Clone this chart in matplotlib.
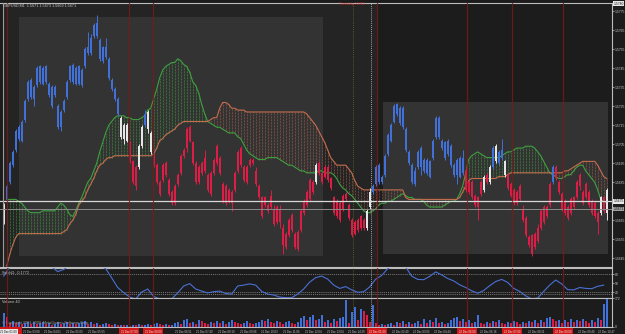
import numpy as np
import matplotlib
matplotlib.use("Agg")
import matplotlib.pyplot as plt
from matplotlib.patches import Rectangle

# ----------------------------------------
# Data (GBPUSD M1)
# ----------------------------------------

opens = [
    1.5664, 1.5676, 1.5685, 1.5694, 1.5702, 1.5708, 1.5707, 1.5718, 1.5729, 1.5739,
    1.5729, 1.5736, 1.5746, 1.5737, 1.5746, 1.5737, 1.5725, 1.5735, 1.5725, 1.5714,
    1.5723, 1.5730, 1.5739, 1.5747, 1.5737, 1.5746, 1.5736, 1.5746, 1.5753, 1.5753,
    1.5762, 1.5769, 1.5760, 1.5749, 1.5756, 1.5750, 1.5739, 1.5734, 1.5729, 1.5719,
    1.5708, 1.5715, 1.5706, 1.5696, 1.5683, 1.5693, 1.5704, 1.5715, 1.5722, 1.5711,
    1.5699, 1.5694, 1.5679, 1.5686, 1.5695, 1.5686, 1.5674, 1.5674, 1.5684, 1.5690,
    1.5699, 1.5703, 1.5714, 1.5706, 1.5685, 1.5685, 1.5690, 1.5698, 1.5681, 1.5679,
    1.5690, 1.5704, 1.5698, 1.5684, 1.5674, 1.5681, 1.5674, 1.5681, 1.5691, 1.5703,
    1.5686, 1.5685, 1.5694, 1.5697, 1.5691, 1.5683, 1.5667, 1.5677, 1.5670, 1.5678,
    1.5663, 1.5672, 1.5671, 1.5661, 1.5651, 1.5657, 1.5668, 1.5651, 1.5650, 1.5660,
    1.5669, 1.5673, 1.5676, 1.5680, 1.5685, 1.5695, 1.5685, 1.5693, 1.5693, 1.5687,
    1.5677, 1.5667, 1.5665, 1.5671, 1.5679, 1.5673, 1.5665, 1.5658, 1.5660, 1.5667,
    1.5661, 1.5661, 1.5672, 1.5680, 1.5684, 1.5694, 1.5685, 1.5689, 1.5700, 1.5707,
    1.5717, 1.5726, 1.5724, 1.5724, 1.5713, 1.5701, 1.5685, 1.5684, 1.5693, 1.5703,
    1.5697, 1.5697, 1.5688, 1.5698, 1.5709, 1.5719, 1.5707, 1.5698, 1.5707, 1.5704,
    1.5689, 1.5689, 1.5688, 1.5698, 1.5691, 1.5685, 1.5685, 1.5678, 1.5672, 1.5679,
    1.5681, 1.5689, 1.5685, 1.5693, 1.5704, 1.5695, 1.5698, 1.5696, 1.5689, 1.5684,
    1.5681, 1.5674, 1.5683, 1.5671, 1.5666, 1.5656, 1.5647, 1.5651, 1.5654, 1.5661,
    1.5664, 1.5667, 1.5673, 1.5685, 1.5693, 1.5685, 1.5679, 1.5675, 1.5666, 1.5669,
    1.5672, 1.5677, 1.5689, 1.5674, 1.5684, 1.5680, 1.5675, 1.5674, 1.5664, 1.5669,
    1.5677, 1.5669,
]

highs = [
    1.5674, 1.5684, 1.5696, 1.5702, 1.5713, 1.5715, 1.5718, 1.5729, 1.5739, 1.5740,
    1.5736, 1.5746, 1.5747, 1.5746, 1.5747, 1.5738, 1.5736, 1.5736, 1.5726, 1.5723,
    1.5729, 1.5739, 1.5747, 1.5748, 1.5746, 1.5747, 1.5745, 1.5756, 1.5764, 1.5763,
    1.5769, 1.5773, 1.5761, 1.5757, 1.5761, 1.5751, 1.5740, 1.5735, 1.5730, 1.5720,
    1.5716, 1.5716, 1.5707, 1.5697, 1.5694, 1.5705, 1.5715, 1.5723, 1.5723, 1.5712,
    1.5700, 1.5695, 1.5686, 1.5695, 1.5696, 1.5687, 1.5681, 1.5684, 1.5690, 1.5700,
    1.5703, 1.5714, 1.5715, 1.5707, 1.5696, 1.5694, 1.5696, 1.5702, 1.5690, 1.5691,
    1.5698, 1.5705, 1.5699, 1.5685, 1.5684, 1.5682, 1.5681, 1.5691, 1.5702, 1.5704,
    1.5694, 1.5694, 1.5698, 1.5698, 1.5693, 1.5684, 1.5678, 1.5678, 1.5674, 1.5681,
    1.5673, 1.5673, 1.5673, 1.5663, 1.5659, 1.5666, 1.5669, 1.5659, 1.5660, 1.5671,
    1.5676, 1.5681, 1.5687, 1.5686, 1.5695, 1.5696, 1.5691, 1.5694, 1.5694, 1.5688,
    1.5678, 1.5676, 1.5675, 1.5679, 1.5680, 1.5674, 1.5666, 1.5665, 1.5666, 1.5668,
    1.5666, 1.5671, 1.5682, 1.5684, 1.5694, 1.5695, 1.5689, 1.5700, 1.5711, 1.5716,
    1.5726, 1.5727, 1.5725, 1.5725, 1.5714, 1.5702, 1.5695, 1.5693, 1.5702, 1.5704,
    1.5698, 1.5698, 1.5697, 1.5708, 1.5720, 1.5720, 1.5708, 1.5707, 1.5708, 1.5705,
    1.5695, 1.5698, 1.5699, 1.5702, 1.5693, 1.5686, 1.5686, 1.5679, 1.5678, 1.5686,
    1.5689, 1.5690, 1.5694, 1.5704, 1.5705, 1.5702, 1.5708, 1.5697, 1.5690, 1.5685,
    1.5682, 1.5681, 1.5684, 1.5673, 1.5667, 1.5657, 1.5658, 1.5659, 1.5663, 1.5671,
    1.5673, 1.5673, 1.5685, 1.5694, 1.5694, 1.5686, 1.5680, 1.5676, 1.5673, 1.5677,
    1.5678, 1.5686, 1.5690, 1.5681, 1.5685, 1.5681, 1.5676, 1.5675, 1.5670, 1.5678,
    1.5678, 1.5682,
]

lows = [
    1.5663, 1.5675, 1.5684, 1.5693, 1.5701, 1.5707, 1.5706, 1.5717, 1.5728, 1.5729,
    1.5725, 1.5735, 1.5737, 1.5736, 1.5737, 1.5730, 1.5724, 1.5730, 1.5713, 1.5712,
    1.5722, 1.5729, 1.5738, 1.5737, 1.5736, 1.5736, 1.5735, 1.5745, 1.5752, 1.5752,
    1.5761, 1.5761, 1.5749, 1.5748, 1.5750, 1.5739, 1.5733, 1.5728, 1.5720, 1.5708,
    1.5705, 1.5706, 1.5695, 1.5684, 1.5681, 1.5692, 1.5703, 1.5714, 1.5711, 1.5700,
    1.5693, 1.5684, 1.5678, 1.5685, 1.5688, 1.5678, 1.5673, 1.5673, 1.5683, 1.5689,
    1.5698, 1.5701, 1.5706, 1.5694, 1.5684, 1.5684, 1.5689, 1.5690, 1.5680, 1.5678,
    1.5689, 1.5694, 1.5689, 1.5674, 1.5673, 1.5674, 1.5670, 1.5680, 1.5690, 1.5693,
    1.5685, 1.5684, 1.5693, 1.5694, 1.5683, 1.5676, 1.5666, 1.5672, 1.5669, 1.5671,
    1.5662, 1.5663, 1.5661, 1.5647, 1.5650, 1.5656, 1.5659, 1.5650, 1.5649, 1.5659,
    1.5668, 1.5672, 1.5675, 1.5679, 1.5684, 1.5689, 1.5684, 1.5687, 1.5685, 1.5681,
    1.5668, 1.5666, 1.5664, 1.5670, 1.5675, 1.5665, 1.5656, 1.5657, 1.5659, 1.5660,
    1.5660, 1.5660, 1.5671, 1.5679, 1.5683, 1.5684, 1.5684, 1.5688, 1.5699, 1.5706,
    1.5716, 1.5720, 1.5715, 1.5713, 1.5701, 1.5694, 1.5684, 1.5683, 1.5692, 1.5689,
    1.5690, 1.5689, 1.5687, 1.5697, 1.5708, 1.5708, 1.5702, 1.5697, 1.5699, 1.5693,
    1.5688, 1.5684, 1.5687, 1.5689, 1.5680, 1.5679, 1.5676, 1.5672, 1.5665, 1.5678,
    1.5680, 1.5684, 1.5684, 1.5692, 1.5695, 1.5694, 1.5697, 1.5688, 1.5681, 1.5677,
    1.5673, 1.5673, 1.5675, 1.5664, 1.5656, 1.5651, 1.5646, 1.5650, 1.5653, 1.5660,
    1.5663, 1.5666, 1.5672, 1.5684, 1.5686, 1.5679, 1.5670, 1.5668, 1.5665, 1.5668,
    1.5671, 1.5676, 1.5681, 1.5673, 1.5676, 1.5672, 1.5668, 1.5666, 1.5658, 1.5668,
    1.5669, 1.5665,
]

closes = [
    1.5673, 1.5683, 1.5695, 1.5701, 1.5712, 1.5714, 1.5717, 1.5728, 1.5738, 1.5730,
    1.5735, 1.5745, 1.5738, 1.5745, 1.5738, 1.5731, 1.5735, 1.5731, 1.5714, 1.5722,
    1.5728, 1.5738, 1.5746, 1.5738, 1.5745, 1.5737, 1.5744, 1.5755, 1.5756, 1.5761,
    1.5768, 1.5762, 1.5750, 1.5756, 1.5751, 1.5740, 1.5734, 1.5729, 1.5721, 1.5709,
    1.5715, 1.5707, 1.5696, 1.5685, 1.5693, 1.5704, 1.5714, 1.5721, 1.5713, 1.5701,
    1.5694, 1.5685, 1.5685, 1.5694, 1.5689, 1.5679, 1.5680, 1.5683, 1.5689, 1.5699,
    1.5702, 1.5713, 1.5707, 1.5695, 1.5695, 1.5693, 1.5695, 1.5691, 1.5689, 1.5690,
    1.5697, 1.5695, 1.5690, 1.5675, 1.5683, 1.5675, 1.5680, 1.5690, 1.5701, 1.5694,
    1.5693, 1.5693, 1.5697, 1.5695, 1.5684, 1.5677, 1.5677, 1.5673, 1.5673, 1.5672,
    1.5671, 1.5664, 1.5664, 1.5652, 1.5658, 1.5665, 1.5660, 1.5658, 1.5659, 1.5670,
    1.5675, 1.5680, 1.5686, 1.5685, 1.5694, 1.5690, 1.5690, 1.5688, 1.5686, 1.5682,
    1.5669, 1.5675, 1.5674, 1.5678, 1.5676, 1.5666, 1.5657, 1.5664, 1.5665, 1.5661,
    1.5665, 1.5670, 1.5680, 1.5683, 1.5693, 1.5685, 1.5688, 1.5699, 1.5710, 1.5715,
    1.5725, 1.5721, 1.5716, 1.5714, 1.5702, 1.5695, 1.5694, 1.5691, 1.5701, 1.5693,
    1.5691, 1.5690, 1.5696, 1.5707, 1.5719, 1.5709, 1.5703, 1.5706, 1.5700, 1.5694,
    1.5694, 1.5697, 1.5698, 1.5690, 1.5681, 1.5680, 1.5677, 1.5673, 1.5677, 1.5685,
    1.5688, 1.5685, 1.5693, 1.5703, 1.5696, 1.5701, 1.5702, 1.5689, 1.5682, 1.5678,
    1.5674, 1.5680, 1.5676, 1.5665, 1.5657, 1.5652, 1.5657, 1.5658, 1.5661, 1.5670,
    1.5672, 1.5672, 1.5684, 1.5693, 1.5687, 1.5680, 1.5671, 1.5669, 1.5672, 1.5676,
    1.5677, 1.5685, 1.5683, 1.5680, 1.5677, 1.5673, 1.5669, 1.5667, 1.5669, 1.5677,
    1.5670, 1.5681,
]

# Ichimoku Senkou spans, as drawn (already shifted)
span_a = [
    None, 1.5676, 1.5676, 1.5676, 1.5676, 1.5675, 1.5674, 1.5672, 1.5670, 1.5669,
    1.5669, 1.5669, 1.5669, 1.5670, 1.5670, 1.5670, 1.5670, 1.5670, 1.5672, 1.5674,
    1.5673, 1.5671, 1.5668, 1.5667, 1.5670, 1.5674, 1.5677, 1.5681, 1.5685, 1.5687,
    1.5691, 1.5695, 1.5701, 1.5706, 1.5711, 1.5715, 1.5717, 1.5719, 1.5720, 1.5720,
    1.5720, 1.5719, 1.5719, 1.5718, 1.5718, 1.5718, 1.5719, 1.5720, 1.5723, 1.5724,
    1.5729, 1.5734, 1.5740, 1.5744, 1.5746, 1.5747, 1.5748, 1.5748, 1.5750, 1.5749,
    1.5747, 1.5746, 1.5743, 1.5738, 1.5736, 1.5732, 1.5726, 1.5721, 1.5717, 1.5716,
    1.5715, 1.5714, 1.5714, 1.5713, 1.5712, 1.5711, 1.5711, 1.5711, 1.5709, 1.5708,
    1.5705, 1.5702, 1.5700, 1.5699, 1.5698, 1.5697, 1.5697, 1.5697, 1.5698, 1.5698,
    1.5698, 1.5698, 1.5697, 1.5696, 1.5695, 1.5694, 1.5694, 1.5693, 1.5692, 1.5691,
    1.5691, 1.5690, 1.5690, 1.5690, 1.5690, 1.5691, 1.5691, 1.5690, 1.5690, 1.5690,
    1.5689, 1.5687, 1.5684, 1.5682, 1.5681, 1.5679, 1.5678, 1.5676, 1.5674, 1.5672,
    1.5670, 1.5669, 1.5669, 1.5670, 1.5671, 1.5673, 1.5674, 1.5674, 1.5675, 1.5675,
    1.5676, 1.5677, 1.5678, 1.5679, 1.5678, 1.5677, 1.5677, 1.5676, 1.5676, 1.5676,
    1.5675, 1.5673, 1.5672, 1.5672, 1.5672, 1.5672, 1.5672, 1.5673, 1.5674, 1.5675,
    1.5675, 1.5676, 1.5679, 1.5683, 1.5690, 1.5697, 1.5699, 1.5700, 1.5701, 1.5700,
    1.5699, 1.5698, 1.5698, 1.5698, 1.5698, 1.5698, 1.5699, 1.5700, 1.5701, 1.5701,
    1.5702, 1.5703, 1.5703, 1.5703, 1.5704, 1.5704, 1.5704, 1.5703, 1.5701, 1.5699,
    1.5696, 1.5693, 1.5690, 1.5689, 1.5688, 1.5687, 1.5687, 1.5688, 1.5689, 1.5689,
    1.5691, 1.5693, 1.5694, 1.5694, 1.5691, 1.5689, 1.5687, 1.5685, 1.5681, 1.5676,
    1.5675, 1.5674,
]

span_b = [
    None, 1.5641, 1.5647, 1.5652, 1.5656, 1.5658, 1.5658, 1.5658, 1.5658, 1.5658,
    1.5658, 1.5658, 1.5658, 1.5658, 1.5658, 1.5658, 1.5658, 1.5658, 1.5658, 1.5658,
    1.5659, 1.5660, 1.5663, 1.5665, 1.5668, 1.5673, 1.5675, 1.5677, 1.5681, 1.5684,
    1.5687, 1.5691, 1.5694, 1.5695, 1.5697, 1.5698, 1.5698, 1.5699, 1.5699, 1.5699,
    1.5699, 1.5699, 1.5699, 1.5699, 1.5699, 1.5699, 1.5699, 1.5699, 1.5699, 1.5699,
    1.5700, 1.5703, 1.5707, 1.5708, 1.5710, 1.5711, 1.5712, 1.5713, 1.5715, 1.5716,
    1.5717, 1.5717, 1.5717, 1.5717, 1.5717, 1.5717, 1.5717, 1.5717, 1.5717, 1.5718,
    1.5719, 1.5719, 1.5724, 1.5727, 1.5727, 1.5726, 1.5724, 1.5724, 1.5723, 1.5723,
    1.5723, 1.5722, 1.5722, 1.5722, 1.5722, 1.5722, 1.5722, 1.5722, 1.5722, 1.5722,
    1.5722, 1.5722, 1.5722, 1.5722, 1.5722, 1.5722, 1.5722, 1.5722, 1.5722, 1.5722,
    1.5722, 1.5721, 1.5719, 1.5717, 1.5715, 1.5712, 1.5709, 1.5706, 1.5702, 1.5698,
    1.5696, 1.5694, 1.5694, 1.5694, 1.5694, 1.5692, 1.5690, 1.5686, 1.5683, 1.5682,
    1.5681, 1.5681, 1.5681, 1.5681, 1.5681, 1.5681, 1.5681, 1.5681, 1.5681, 1.5681,
    1.5681, 1.5681, 1.5681, 1.5681, 1.5677, 1.5676, 1.5676, 1.5676, 1.5676, 1.5676,
    1.5676, 1.5676, 1.5676, 1.5676, 1.5676, 1.5676, 1.5676, 1.5676, 1.5676, 1.5676,
    1.5676, 1.5676, 1.5677, 1.5680, 1.5683, 1.5686, 1.5687, 1.5687, 1.5687, 1.5687,
    1.5687, 1.5687, 1.5687, 1.5687, 1.5687, 1.5688, 1.5688, 1.5688, 1.5689, 1.5690,
    1.5690, 1.5690, 1.5690, 1.5690, 1.5690, 1.5690, 1.5690, 1.5690, 1.5690, 1.5690,
    1.5690, 1.5690, 1.5690, 1.5690, 1.5690, 1.5690, 1.5690, 1.5691, 1.5691, 1.5692,
    1.5693, 1.5694, 1.5695, 1.5696, 1.5696, 1.5696, 1.5696, 1.5696, 1.5694, 1.5691,
    1.5688, 1.5687,
]

# StochD, one reading every second bar
stoch_d = [
    74, 105, 120, 125, 128, 122, 118, 112, 105, 89,
    96, 110, 115, 120, 118, 112, 108, 99, 68, 36,
    19, 4, -2, 21, 31, 6, -2, -2, -2, 18,
    41, 49, 31, 24, 18, 22, 24, 16, 14, 41,
    44, 48, 44, 23, 14, 11, 4, 2, 2, 14,
    31, 54, 69, 74, 64, 44, 33, 39, 28, 20,
    22, 38, 64, 76, 99, 108, 112, 104, 74, 63,
    62, 73, 88, 78, 66, 58, 45, 36, 25, 17,
    26, 42, 56, 63, 53, 33, 23, 8, -2, 1,
    23, 44, 61, 48, 29, 28, 36, 33, 32, 40,
    44,
]

volumes = [
    80, 60, 25, 35, 20, 28, 15, 22, 30, 18,
    26, 14, 20, 31, 17, 24, 12, 19, 27, 16,
    22, 30, 18, 25, 14, 20, 28, 33, 19, 26,
    15, 21, 12, 18, 24, 14, 10, 16, 9, 13,
    8, 12, 7, 11, 9, 14, 8, 12, 19, 10,
    15, 22, 14, 11, 17, 9, 13, 20, 26, 18,
    38, 45, 22, 30, 18, 40, 33, 24, 16, 28,
    20, 32, 24, 35, 19, 27, 38, 30, 22, 15,
    25, 33, 20, 14, 21, 29, 42, 35, 48, 30,
    22, 34, 27, 19, 26, 36, 23, 18, 29, 55,
    65, 40, 60, 72, 38, 45, 70, 28, 42, 25,
    48, 35, 55, 60, 160, 25, 90, 120, 40, 105,
    98, 70, 30, 130, 20, 12, 18, 9, 15, 22,
    12, 30, 24, 35, 18, 27, 14, 20, 32, 15,
    45, 25, 38, 30, 50, 20, 28, 16, 25, 42,
    55, 60, 35, 48, 30, 40, 22, 30, 70, 25,
    18, 30, 22, 35, 28, 40, 24, 15, 28, 20,
    35, 26, 18, 30, 22, 35, 28, 42, 24, 38,
    30, 55, 60, 48, 35, 40, 25, 38, 30, 45,
    28, 40, 33, 48, 36, 25, 42, 30, 50, 38,
    140, 165,
]

price_ticks = [1.5645, 1.5655, 1.5665, 1.5685, 1.5695, 1.5705, 1.5715,
               1.5725, 1.5735, 1.5745, 1.5755, 1.5765, 1.5775]
ask_price = 1.5675
bid_price = 1.5671
top_price = 1.5780

# bar positions of the vertical separators; the first one's time tag
# is hidden behind the cursor tag, so it has no text
session_bars = [1.1, 41.8, 49.8, 124.4, 154.4, 169.4, 186.4]
session_labels = [None, "21 Dec 07:00", "21 Dec 08:00", "22 Dec 01:00",
                  "22 Dec 06:00", "22 Dec 07:00", "22 Dec 08:00"]
time_bars = [6.33, 13.57, 20.8, 28.03, 56.97, 64.2, 71.43, 78.67, 85.9, 93.13,
             100.4, 107.7, 114.8, 129.4, 136.4, 143.4, 158.8, 174.8, 191.4, 198.1]
time_labels = ["21 Dec 03:08", "21 Dec 04:01", "21 Dec 05:05", "21 Dec 05:55",
               "21 Dec 06:51", "21 Dec 07:40", "21 Dec 08:19", "21 Dec 09:06",
               "21 Dec 10:03", "21 Dec 11:06", "21 Dec 12:04", "21 Dec 13:04",
               "21 Dec 14:29", "22 Dec 02:40", "22 Dec 03:03", "22 Dec 04:44",
               "22 Dec 06:18", "22 Dec 08:31", "22 Dec 09:40", "22 Dec 10:47"]
cursor_label = "21 Dec 01:00"

# ----------------------------------------
# Style
# ----------------------------------------

plt.rcParams["font.family"] = ["Liberation Sans Narrow", "Liberation Sans", "DejaVu Sans"]

BG = "#1c1c1c"
BOX = "#333333"
BLUE = "#4170d8"
RED = "#dc1e46"
WHITE = "#e6e6e6"
TXT = "#c8c8c8"
SEP = "#7a1a1a"
TAG_RED = "#d01818"
FS = 2.7      # panel texts
FS_AX = 2.4   # price scale
FS_T = 2.0    # time scale

W, H = 625, 334
fig = plt.figure(figsize=(W / 100, H / 100), dpi=100, facecolor=BG)


def frac(x0, y0, x1, y1):
    # pixel box -> figure fraction rect
    return [x0 / W, 1 - y1 / H, (x1 - x0) / W, (y1 - y0) / H]


ax = fig.add_axes(frac(0, 3, 612, 267))
ax_st = fig.add_axes(frac(0, 268.3, 612, 298.3), sharex=ax)
ax_vol = fig.add_axes(frac(0, 298.3, 612, 326.7), sharex=ax)

n = len(closes)
x = np.arange(n)
xmin = -1.233
ax.set_xlim(xmin, xmin + 204)

for a in (ax, ax_st, ax_vol):
    a.set_facecolor(BG)
    for s in a.spines.values():
        s.set_color("#bdbdbd")
        s.set_linewidth(0.8)
    a.spines["left"].set_visible(False)
    a.tick_params(axis="x", bottom=False, labelbottom=False)
    a.yaxis.tick_right()
    a.tick_params(axis="y", colors=TXT, labelsize=FS_AX, length=1.5, width=0.5, pad=0.8)

# ----------------------------------------
# Main chart
# ----------------------------------------

ax.set_ylim(1.564042, 1.577937)
ax.set_yticks(price_ticks)
ax.set_yticklabels([f"{p:.4f}" for p in price_ticks])

# background boxes
ax.add_patch(Rectangle((-0.33, 1.564042), 124.8, 1.577937 - 1.564042,
                       facecolor="#242424", edgecolor="none", zorder=0))
ax.add_patch(Rectangle((5.1, 1.56462), 101.4, 1.57722 - 1.56462,
                       facecolor=BOX, edgecolor="none", zorder=0.5))
ax.add_patch(Rectangle((126.5, 1.56473), 74.8, 1.57274 - 1.56473,
                       facecolor=BOX, edgecolor="none", zorder=0.5))

# cloud
a_arr = np.array(span_a, dtype=float)
b_arr = np.array(span_b, dtype=float)
ok = ~np.isnan(a_arr)
green = ok & (a_arr >= b_arr)
brown = ok & (a_arr < b_arr)
ax.vlines(x[green], b_arr[green], a_arr[green], colors="#3d9a3d",
          linestyles=(0, (0.8, 1.0)), linewidth=0.6, zorder=1)
ax.vlines(x[brown], a_arr[brown], b_arr[brown], colors="#a0604a",
          linestyles=(0, (0.8, 1.0)), linewidth=0.6, zorder=1)
ax.plot(x, a_arr, color="#3fa03f", lw=0.8, zorder=2)
ax.plot(x, b_arr, color="#c56d4e", lw=0.8, zorder=2)

# candles, coloured by where the close sits against the cloud
o = np.array(opens)
c = np.array(closes)
top = np.fmax(a_arr, b_arr)
bot = np.fmin(a_arr, b_arr)
cols = np.where(c > top, BLUE, np.where(c < bot, RED, WHITE))
ax.vlines(x, lows, highs, colors=cols, lw=0.7, zorder=3)
body_lo = np.minimum(o, c)
body_h = np.maximum(np.abs(c - o), 0.00006)
ax.bar(x, body_h, bottom=body_lo, width=0.66, color=cols, linewidth=0, zorder=3)

# price lines
ax.axhline(ask_price, color="#d8d8d8", lw=0.9, zorder=4)
ax.axhline(bid_price, color="#8c8c8c", lw=0.7, zorder=4)
ax.axvline(-0.33, color="#9a9a9a", lw=0.8, zorder=4)

yt = ax.get_yaxis_transform()
for price, fc in ((ask_price, "#e8e8e8"), (bid_price, "#a0a0a0"), (top_price, "#e8e8e8")):
    ax.text(1.002, min(price, 1.5779), f"{price:.4f}", transform=yt, fontsize=FS_AX,
            color="#111111", va="center", ha="left", clip_on=False,
            bbox=dict(boxstyle="square,pad=0.1", fc=fc, ec="none"))

# ----------------------------------------
# StochD panel
# ----------------------------------------

st_x = np.arange(0, n, 2)
ax_st.set_ylim(0, 100)
ax_st.plot(st_x, stoch_d, color="#4a70d4", lw=0.8, zorder=3)
for lvl in (80, 22, 14):
    ax_st.axhline(lvl, color="#9a9a9a", lw=0.5, ls=(0, (1.5, 1.5)), zorder=1)
ax_st.set_yticks([80, 50, 20])
ax_st.set_yticklabels(["80", "50", "20"])
ax_st.text(0.004, 0.83, "StochD: -0.1772", transform=ax_st.transAxes,
           fontsize=FS, color=TXT, va="center")

# ----------------------------------------
# Volume panel
# ----------------------------------------

v = np.array(volumes)
vcols = [BLUE] + [BLUE if v[i] >= v[i - 1] else RED for i in range(1, n)]
ax_vol.bar(x, v, width=0.66, color=vcols, linewidth=0, zorder=3)
ax_vol.set_ylim(0, 172)
ax_vol.set_yticks([0, 172])
ax_vol.set_yticklabels(["0", "172"])
ax_vol.text(0.004, 0.86, "Volume 40", transform=ax_vol.transAxes,
            fontsize=FS, color=TXT, va="center")
ax_vol.text(0.004, 0.14, "\u00a9 Copyright 2001-2009, MetaQuotes Software Corp.",
            transform=ax_vol.transAxes, fontsize=FS, color="#9a9a9a", va="center",
            zorder=5)

# ----------------------------------------
# Separators spanning all panels
# ----------------------------------------

for a in (ax, ax_st, ax_vol):
    for sb in session_bars:
        a.axvline(sb, color=SEP, lw=0.9, alpha=0.8, zorder=5)
    a.axvline(116.4, color="#6a6a30", lw=0.6, ls=(0, (1, 1.5)), zorder=5)
    a.axvline(122.4, color="#d0d0d0", lw=0.6, ls=(0, (1, 1.5)), zorder=5)

# ----------------------------------------
# Time axis
# ----------------------------------------

xt = ax_vol.get_xaxis_transform()
for tb, tl in zip(time_bars, time_labels):
    ax_vol.text(tb, -0.12, tl, transform=xt, fontsize=FS_T, color=TXT,
                ha="left", va="top", clip_on=False)
for sb, sl in zip(session_bars, session_labels):
    if sl is None:
        # tag mostly covered by the cursor tag: only its red edge shows
        ax_vol.add_patch(Rectangle((xmin, -0.27), sb + 5 - xmin, 0.26,
                                   transform=xt, facecolor=TAG_RED,
                                   edgecolor="none", clip_on=False, zorder=6))
        continue
    ax_vol.text(sb, -0.12, sl, transform=xt, fontsize=FS_T, color="#f0f0f0",
                ha="center", va="top", clip_on=False, zorder=6,
                bbox=dict(boxstyle="square,pad=0.6", fc=TAG_RED, ec="none"))
ax_vol.text(xmin + 0.1, -0.12, cursor_label, transform=xt, fontsize=FS_T,
            color="#111111", ha="left", va="top", clip_on=False, zorder=7,
            bbox=dict(boxstyle="square,pad=0.5", fc="#e8e8e8", ec="none"))

# header texts
fig.text(3 / W, 1 - 6 / H, "GBPUSD,M1  1.5671 1.5673 1.5669 1.5671",
         fontsize=FS, color=TXT, va="center")
fig.text(352 / W, 1 - 4 / H, "Tuesday, 22/12", fontsize=FS, color="#d02020",
         va="center", ha="center")

fig.savefig("out.png", dpi=100, facecolor=BG)
